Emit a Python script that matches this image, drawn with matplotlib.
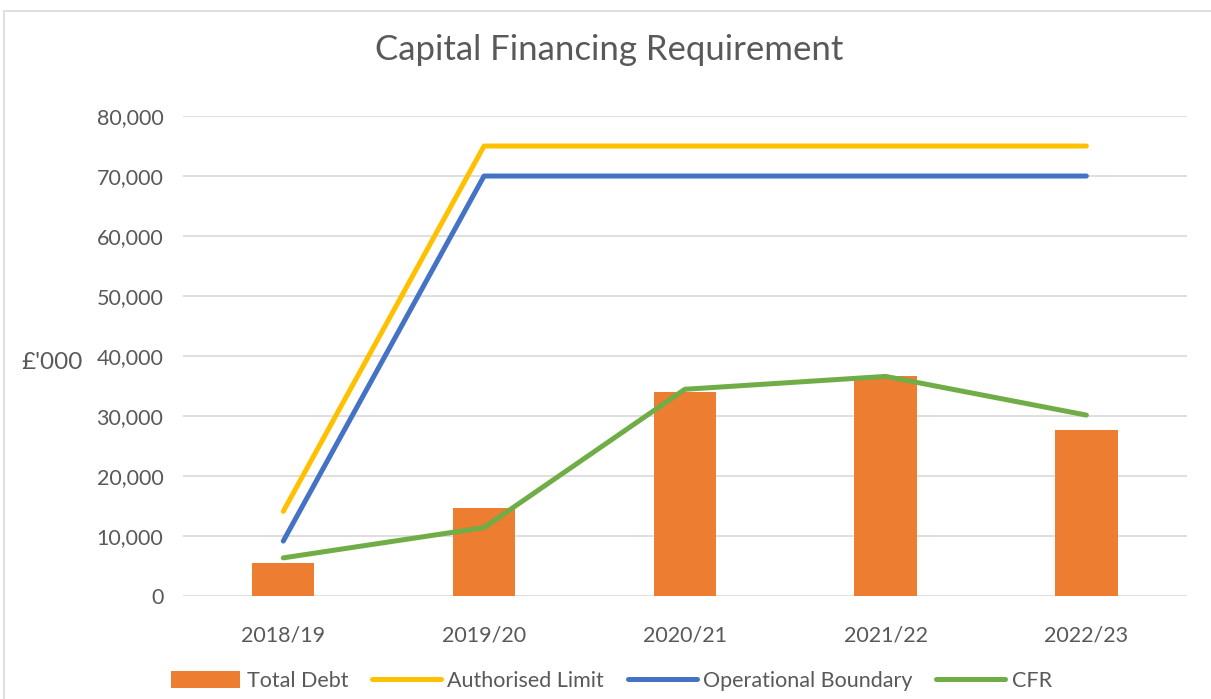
import matplotlib.pyplot as plt
from matplotlib.patches import Rectangle
from matplotlib.ticker import FuncFormatter

# Chart data (£'000)
years = ["2018/19", "2019/20", "2020/21", "2021/22", "2022/23"]
total_debt = [5500, 14600, 34000, 36700, 27700]
authorised_limit = [14100, 75000, 75000, 75000, 75000]
operational_boundary = [9150, 70000, 70000, 70000, 70000]
cfr = [6350, 11400, 34450, 36600, 30150]

text_grey = "#595959"
grid_grey = "#D9D9D9"

plt.rcParams["font.family"] = ["Lato", "DejaVu Sans"]


def main():
    fig = plt.figure(figsize=(12.11, 6.99), dpi=100)
    ax = fig.add_axes([0.151, 0.1474, 0.829, 0.6866])

    x = list(range(len(years)))
    ax.bar(x, total_debt, width=0.31, color="#ED7D31", label="Total Debt", zorder=2)
    ax.plot(x, authorised_limit, color="#FFC000", lw=3.6, solid_capstyle="round",
            solid_joinstyle="round", label="Authorised Limit", zorder=3)
    ax.plot(x, operational_boundary, color="#4472C4", lw=3.6, solid_capstyle="round",
            solid_joinstyle="round", label="Operational Boundary", zorder=3)
    ax.plot(x, cfr, color="#70AD47", lw=3.6, solid_capstyle="round",
            solid_joinstyle="round", label="CFR", zorder=3)

    ax.set_xlim(-0.5, len(years) - 0.5)
    ax.set_ylim(0, 80000)
    ax.set_yticks(range(0, 80001, 10000))
    ax.yaxis.set_major_formatter(FuncFormatter(lambda v, p: f"{int(v):,}"))
    ax.set_xticks(x)
    ax.set_xticklabels(years)
    ax.grid(axis="y", color=grid_grey, lw=1.2, zorder=0)
    for s in ax.spines.values():
        s.set_visible(False)
    ax.tick_params(length=0, labelsize=15.5, colors=text_grey)
    ax.tick_params(axis="y", pad=14)
    ax.tick_params(axis="x", pad=21)

    ax.set_ylabel("£'000", rotation=0, fontsize=17.5, color=text_grey, va="center")
    ax.yaxis.set_label_coords(-0.13, 0.487)

    fig.text(0.503, 0.929, "Capital Financing Requirement", ha="center", va="center",
             fontsize=25, color=text_grey)

    handles, labels = ax.get_legend_handles_labels()
    order = [3, 0, 1, 2]
    fig.legend([handles[i] for i in order], [labels[i] for i in order],
               loc="lower center", bbox_to_anchor=(0.505, -0.016), ncol=4, frameon=False,
               fontsize=15.5, handlelength=3.2, handleheight=0.8, handletextpad=0.3,
               columnspacing=1.1, labelcolor=text_grey)

    # Light chart-area frame
    fig.patches.append(Rectangle((4 / 1211, -0.1), 1.2, 1.1 - 11 / 699, transform=fig.transFigure,
                                 fill=False, edgecolor=grid_grey, lw=1.2))

    fig.savefig("out.png", dpi=100)


if __name__ == "__main__":
    main()
